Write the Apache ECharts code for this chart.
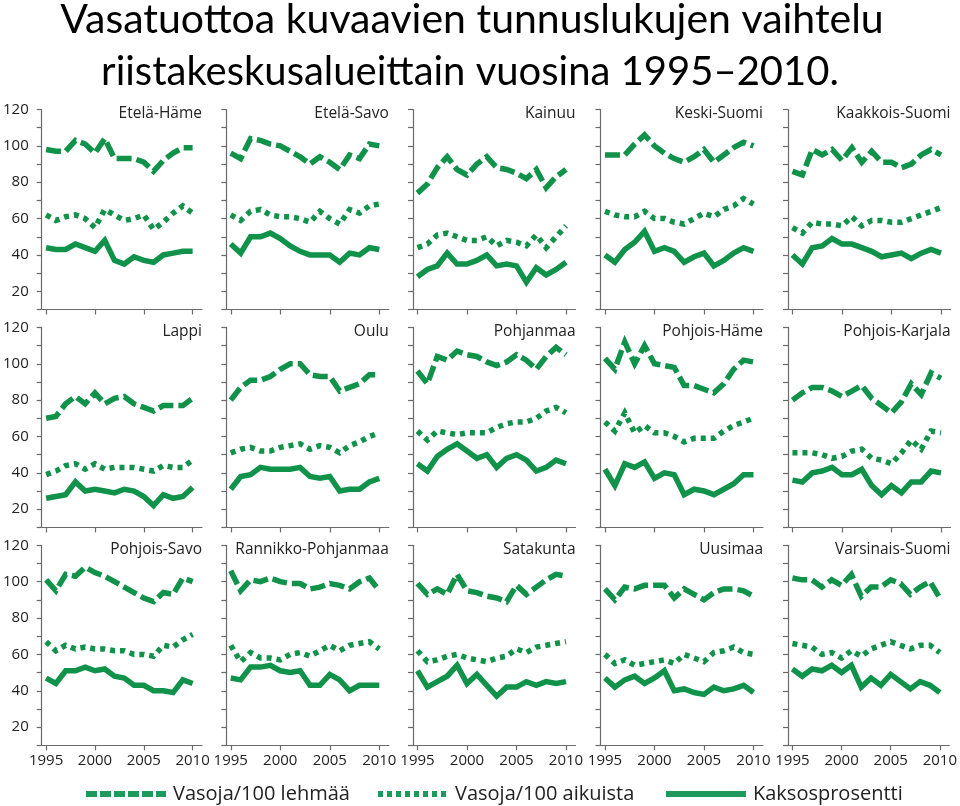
<!DOCTYPE html>
<html>
<head>
<meta charset="utf-8">
<script src="https://cdn.jsdelivr.net/npm/echarts@6/dist/echarts.min.js"></script>
<style>
html,body{margin:0;padding:0;background:#fff;}
#chart{width:960px;height:806px;}
</style>
</head>
<body>
<div id="chart"></div>
<script>
// ---- data ----
const years = [1995,1996,1997,1998,1999,2000,2001,2002,2003,2004,2005,2006,2007,2008,2009,2010];
const xTicks = [1995, 2000, 2005, 2010];
const regions = ['Etelä-Häme','Etelä-Savo','Kainuu','Keski-Suomi','Kaakkois-Suomi',
  'Lappi','Oulu','Pohjanmaa','Pohjois-Häme','Pohjois-Karjala',
  'Pohjois-Savo','Rannikko-Pohjanmaa','Satakunta','Uusimaa','Varsinais-Suomi'];
const seriesNames = ['Vasoja/100 lehmää','Vasoja/100 aikuista','Kaksosprosentti'];

// Vasoja/100 lehmää (one row per region, 1995–2010)
const lehmaa = [
  [98, 97, 97, 103, 101, 96, 104, 93, 93, 93, 91, 86, 92, 96, 99, 99],
  [96, 93, 104, 103, 101, 100, 97, 94, 90, 94, 91, 87, 95, 93, 101, 100],
  [74, 79, 88, 94, 87, 84, 90, 94, 88, 87, 85, 82, 87, 77, 83, 87],
  [95, 95, 95, 101, 106, 100, 96, 93, 91, 94, 98, 91, 95, 99, 102, 100],
  [86, 84, 98, 95, 98, 92, 99, 91, 97, 91, 91, 88, 90, 95, 98, 95],
  [70, 71, 78, 82, 78, 84, 78, 81, 82, 78, 76, 74, 77, 77, 77, 81],
  [80, 87, 91, 91, 93, 97, 100, 100, 94, 93, 93, 85, 87, 89, 94, 94],
  [96, 89, 104, 102, 107, 105, 104, 101, 99, 101, 105, 102, 97, 104, 109, 105],
  [103, 97, 112, 100, 110, 100, 99, 98, 88, 88, 86, 84, 89, 97, 102, 101],
  [80, 84, 87, 87, 85, 82, 85, 88, 81, 77, 73, 79, 89, 83, 95, 92],
  [101, 95, 104, 103, 108, 105, 103, 100, 97, 94, 91, 89, 94, 93, 102, 100],
  [106, 95, 101, 100, 102, 100, 99, 99, 96, 97, 99, 98, 96, 100, 102, 95],
  [99, 93, 96, 93, 104, 95, 94, 92, 91, 89, 98, 93, 97, 101, 104, 103],
  [96, 90, 97, 96, 98, 98, 98, 91, 96, 93, 90, 94, 96, 96, 95, 92],
  [102, 101, 101, 97, 101, 98, 104, 92, 97, 97, 101, 99, 93, 97, 100, 91]
];
// Vasoja/100 aikuista
const aikuista = [
  [62, 59, 61, 62, 60, 55, 65, 62, 59, 60, 62, 54, 58, 63, 67, 63],
  [62, 59, 64, 65, 62, 61, 61, 60, 58, 64, 60, 57, 65, 63, 67, 68],
  [44, 46, 51, 52, 50, 48, 48, 50, 45, 48, 47, 45, 51, 44, 50, 56],
  [64, 62, 61, 61, 64, 60, 60, 58, 57, 60, 63, 61, 65, 67, 71, 68],
  [55, 52, 58, 57, 57, 56, 61, 56, 59, 59, 58, 58, 60, 62, 64, 66],
  [39, 41, 44, 45, 42, 45, 42, 43, 43, 43, 42, 41, 44, 43, 43, 47],
  [51, 53, 54, 52, 52, 54, 55, 56, 53, 55, 54, 51, 55, 57, 60, 62],
  [63, 58, 63, 62, 61, 62, 62, 62, 65, 67, 68, 68, 70, 74, 76, 73],
  [68, 63, 73, 62, 66, 62, 62, 60, 57, 59, 59, 59, 63, 66, 68, 70],
  [51, 51, 51, 50, 48, 49, 52, 53, 48, 47, 45, 51, 58, 53, 63, 62],
  [67, 62, 65, 63, 64, 63, 63, 62, 62, 60, 60, 59, 65, 64, 68, 71],
  [65, 56, 61, 58, 58, 57, 60, 61, 59, 62, 65, 62, 65, 66, 67, 63],
  [62, 56, 57, 59, 60, 58, 57, 56, 58, 59, 63, 61, 64, 65, 66, 67],
  [60, 55, 57, 54, 55, 56, 57, 55, 60, 58, 56, 61, 62, 64, 61, 60],
  [66, 65, 64, 60, 61, 58, 62, 59, 63, 65, 67, 65, 63, 65, 65, 61]
];
// Kaksosprosentti
const kaksos = [
  [44, 43, 43, 46, 44, 42, 48, 37, 35, 39, 37, 36, 40, 41, 42, 42],
  [46, 41, 50, 50, 52, 49, 45, 42, 40, 40, 40, 36, 41, 40, 44, 43],
  [28, 32, 34, 41, 35, 35, 37, 40, 34, 35, 34, 25, 33, 29, 32, 36],
  [40, 36, 43, 47, 53, 42, 44, 42, 36, 39, 41, 34, 37, 41, 44, 42],
  [40, 35, 44, 45, 49, 46, 46, 44, 42, 39, 40, 41, 38, 41, 43, 41],
  [26, 27, 28, 35, 30, 31, 30, 29, 31, 30, 27, 22, 28, 26, 27, 32],
  [31, 38, 39, 43, 42, 42, 42, 43, 38, 37, 38, 30, 31, 31, 35, 37],
  [45, 41, 49, 53, 56, 52, 48, 50, 43, 48, 50, 47, 41, 43, 47, 45],
  [42, 33, 45, 43, 46, 37, 40, 39, 28, 31, 30, 28, 31, 34, 39, 39],
  [36, 35, 40, 41, 43, 39, 39, 42, 33, 28, 33, 29, 35, 35, 41, 40],
  [47, 44, 51, 51, 53, 51, 52, 48, 47, 43, 43, 40, 40, 39, 46, 44],
  [47, 46, 53, 53, 54, 51, 50, 51, 43, 43, 49, 46, 40, 43, 43, 43],
  [51, 42, 45, 48, 54, 44, 49, 43, 37, 42, 42, 45, 43, 45, 44, 45],
  [47, 42, 46, 48, 44, 47, 51, 40, 41, 39, 38, 42, 40, 41, 43, 39],
  [52, 48, 52, 51, 54, 50, 54, 42, 47, 43, 49, 45, 41, 45, 43, 39]
];

// ---- layout & style ----
const GREEN = '#10924a';
const LEG_GREEN = '#1b9a5b';
const AXIS = '#6a6a6a';
const colLeft = [39.5, 226.3, 413, 600.5, 788];
const rowTop = [109.5, 327.4, 545.3];
const gW = 162.5, gH = 200;
const FONT = 'Open Sans';

const grids = [], xAxes = [], yAxes = [], series = [];
const titles = [
  {text:'Vasatuottoa kuvaavien tunnuslukujen vaihtelu', left:472, top:-0.5, textAlign:'center', padding:0,
   textStyle:{fontFamily:'Lato', fontSize:41, fontWeight:'normal', color:'#000'}},
  {text:'riistakeskusalueittain vuosina 1995–2010.', left:470, top:52, textAlign:'center', padding:0,
   textStyle:{fontFamily:'Lato', fontSize:40, fontWeight:'normal', color:'#000'}}
];

regions.forEach((name, i) => {
  const r = Math.floor(i / 5), c = i % 5;
  const left = colLeft[c], top = rowTop[r];
  grids.push({left:left, top:top, width:gW, height:gH, containLabel:false});
  xAxes.push({
    type:'value', gridIndex:i, min:1994.55, max:2010.96,
    splitLine:{show:false},
    axisLine:{show:true, onZero:false, lineStyle:{color:AXIS, width:1.2}},
    axisTick:{show:true, length:5, customValues:xTicks, lineStyle:{color:AXIS, width:1.2}},
    axisLabel:{show:r === 2, customValues:xTicks, margin:8, fontFamily:FONT, fontSize:15, color:'#222',
      formatter: v => String(v)}
  });
  yAxes.push({
    type:'value', gridIndex:i, min:10, max:120, interval:10,
    splitLine:{show:false},
    axisLine:{show:true, lineStyle:{color:AXIS, width:1.2}},
    axisTick:{show:true, length:5, lineStyle:{color:AXIS, width:1.2}},
    axisLabel:{show:c === 0, margin:13, fontFamily:FONT, fontSize:15, color:'#222',
      formatter: v => (v >= 20 && v % 20 === 0) ? String(v) : ''}
  });
  titles.push({text:name, left:left + gW, top:top - 4, textAlign:'right', padding:0,
    textStyle:{fontFamily:FONT, fontSize:15.5, fontWeight:'normal', color:'#222'}});
  const sets = [lehmaa[i], aikuista[i], kaksos[i]];
  const dashes = [[15,5],[5,5],'solid'];
  sets.forEach((arr, s) => {
    series.push({
      name: seriesNames[s], type:'line', xAxisIndex:i, yAxisIndex:i,
      data: years.map((y, k) => [y, arr[k]]),
      symbol:'none', silent:true, animation:false,
      lineStyle:{color:GREEN, width:5.5, type:dashes[s], cap:'butt', join:'miter'},
      itemStyle:{color:GREEN}
    });
  });
});

const hiddenSym = {color:'rgba(0,0,0,0)', borderWidth:0, opacity:0};
const legendBase = {top:784, itemHeight:22, padding:0, itemGap:0,
  textStyle:{fontFamily:FONT, fontSize:20, color:'#222', padding:[0,0,0,2]}};
const legends = [
  Object.assign({}, legendBase, {left:83, itemWidth:80,
    data:[{name:seriesNames[0], itemStyle:hiddenSym, lineStyle:{type:[11,3], width:6, color:LEG_GREEN}}]}),
  Object.assign({}, legendBase, {left:375, itemWidth:70,
    data:[{name:seriesNames[1], itemStyle:hiddenSym, lineStyle:{type:[5,4], width:6, color:LEG_GREEN}}]}),
  Object.assign({}, legendBase, {left:663, itemWidth:80,
    data:[{name:seriesNames[2], itemStyle:hiddenSym, lineStyle:{type:'solid', width:6, color:LEG_GREEN}}]})
];

const chart = echarts.init(document.getElementById('chart'), null, {renderer:'canvas'});
chart.setOption({
  animation:false,
  backgroundColor:'#fff',
  title: titles,
  legend: legends,
  grid: grids,
  xAxis: xAxes,
  yAxis: yAxes,
  series: series
});
</script>
</body>
</html>
